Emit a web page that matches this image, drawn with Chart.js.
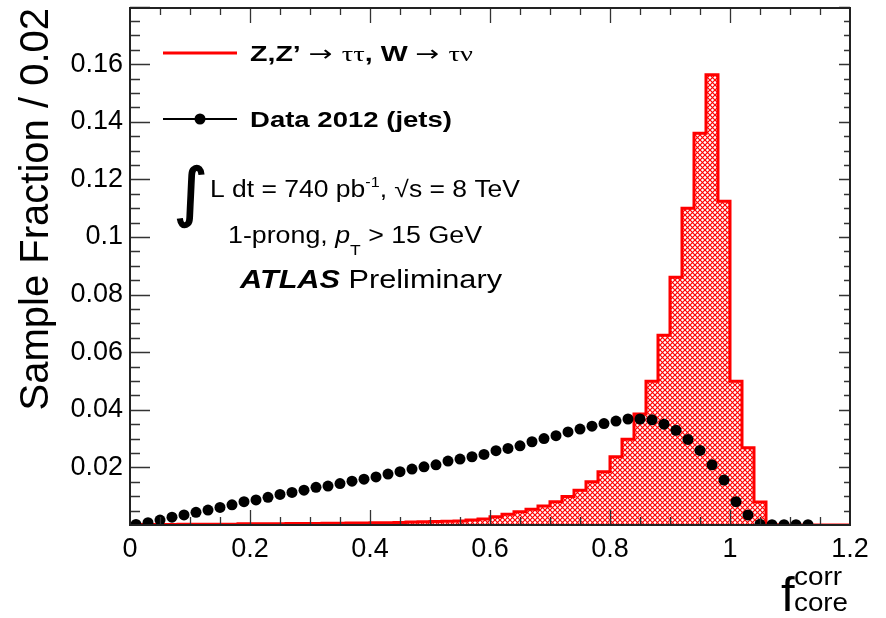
<!DOCTYPE html>
<html>
<head>
<meta charset="utf-8">
<script src="https://cdn.jsdelivr.net/npm/chart.js@4.4.1/dist/chart.umd.min.js"></script>
<style>
  html, body { margin: 0; padding: 0; background: #fff; }
  canvas { display: block; }
</style>
</head>
<body>
<canvas id="grafico" width="886" height="618"></canvas>
<script>
// bin edges of f_core^corr (bin width 0.02)
var binEdges = [0.00, 0.02, 0.04, 0.06, 0.08, 0.10, 0.12, 0.14, 0.16, 0.18,
                0.20, 0.22, 0.24, 0.26, 0.28, 0.30, 0.32, 0.34, 0.36, 0.38,
                0.40, 0.42, 0.44, 0.46, 0.48, 0.50, 0.52, 0.54, 0.56, 0.58,
                0.60, 0.62, 0.64, 0.66, 0.68, 0.70, 0.72, 0.74, 0.76, 0.78,
                0.80, 0.82, 0.84, 0.86, 0.88, 0.90, 0.92, 0.94, 0.96, 0.98,
                1.00, 1.02, 1.04, 1.06, 1.08, 1.10, 1.12, 1.14, 1.16, 1.18, 1.20];

// Z,Z' -> tautau, W -> taunu (signal histogram)
var sinalValores = [0.0002, 0.0002, 0.0002, 0.0002, 0.0003, 0.0003, 0.0003, 0.0003, 0.0003, 0.0004,
                    0.0004, 0.0004, 0.0004, 0.0005, 0.0005, 0.0005, 0.0006, 0.0006, 0.0007, 0.0007,
                    0.0008, 0.0008, 0.0009, 0.0010, 0.0011, 0.0012, 0.0013, 0.0014, 0.0017, 0.0021,
                    0.0029, 0.0037, 0.0046, 0.0055, 0.0066, 0.0081, 0.0099, 0.0121, 0.0150, 0.0185,
                    0.0237, 0.0298, 0.0385, 0.0499, 0.0659, 0.0860, 0.1100, 0.1360, 0.1563, 0.1124,
                    0.0499, 0.0268, 0.0080, 0.0001, 0, 0, 0, 0, 0, 0];

// Data 2012 (jets), one value per bin (null = no point drawn)
var dadosValores = [0.0002, 0.0008, 0.0017, 0.0027, 0.0035, 0.0044, 0.0052, 0.0061, 0.0070, 0.0081,
                    0.0087, 0.0096, 0.0106, 0.0113, 0.0121, 0.0131, 0.0135, 0.0144, 0.0152, 0.0159,
                    0.0167, 0.0177, 0.0185, 0.0194, 0.0202, 0.0209, 0.0222, 0.0229, 0.0237, 0.0245,
                    0.0258, 0.0266, 0.0275, 0.0289, 0.0300, 0.0310, 0.0323, 0.0333, 0.0343, 0.0352,
                    0.0361, 0.0368, 0.0368, 0.0365, 0.0350, 0.0329, 0.0297, 0.0259, 0.0209, 0.0156,
                    0.0081, 0.0035, 0.0003, 0.0001, 0.0001, 0.0001, 0.0001, null, null, null];

var xMin = 0, xMax = 1.2, xPasso = 0.2, xMenor = 0.05;
var yMin = 0, yMax = 0.1795, yPasso = 0.02, yMenor = 0.005;

var SANS = '"Liberation Sans", Arial, Helvetica, sans-serif';
var SERIF = '"Liberation Serif", "Times New Roman", serif';

function montaHachura(ctx) {
    var s = 5;
    var c = document.createElement("canvas");
    c.width = s; c.height = s;
    var g = c.getContext("2d");
    g.strokeStyle = "#ff0000";
    g.lineWidth = 1.2;
    g.beginPath();
    g.moveTo(-1, -1); g.lineTo(s + 1, s + 1);
    g.moveTo(s + 1, -1); g.lineTo(-1, s + 1);
    g.stroke();
    return ctx.createPattern(c, "repeat");
}

// draws text pieces in a row, squeezed/stretched to fit between x0 and x1
function escreveLinha(ctx, x0, x1, base, partes) {
    var total = 0;
    partes.forEach(function(p) {
        ctx.font = p.font;
        total += ctx.measureText(p.t).width;
    });
    var sx = x1 ? (x1 - x0) / total : 1;
    ctx.save();
    ctx.translate(x0, base);
    ctx.scale(sx, 1);
    ctx.textBaseline = "alphabetic";
    ctx.textAlign = "left";
    var cx = 0;
    partes.forEach(function(p) {
        ctx.font = p.font;
        ctx.fillText(p.t, cx, p.dy || 0);
        if (p.grosso) {
            ctx.lineWidth = p.grosso;
            ctx.strokeText(p.t, cx, p.dy || 0);
        }
        cx += ctx.measureText(p.t).width;
    });
    ctx.restore();
}

var decoracao = {
    id: "decoracao",
    afterDatasetsDraw: function(chart) {
        var ctx = chart.ctx, a = chart.chartArea;
        var xs = chart.scales.x, ys = chart.scales.y;
        ctx.save();
        ctx.strokeStyle = "#333";
        ctx.lineWidth = 1.3;
        ctx.beginPath();
        var nY = Math.round((yMax - yMin) / yMenor);
        for (var k = 1; k <= nY; k++) {
            var py = Math.round(ys.getPixelForValue(k * yMenor)) + 0.5;
            var maior = (k % 4 === 0);
            ctx.moveTo(a.left, py); ctx.lineTo(a.left + (maior ? 20 : 10), py);
            ctx.moveTo(a.right, py); ctx.lineTo(a.right - (maior ? 11 : 6), py);
        }
        var nX = Math.round((xMax - xMin) / xMenor);
        for (var j = 1; j < nX; j++) {
            var px = Math.round(xs.getPixelForValue(j * xMenor)) + 0.5;
            var grande = (j % 4 === 0);
            ctx.moveTo(px, a.bottom); ctx.lineTo(px, a.bottom - (grande ? 15 : 8));
            ctx.moveTo(px, a.top); ctx.lineTo(px, a.top + (grande ? 15 : 7));
        }
        ctx.stroke();
        ctx.strokeStyle = "#222";
        ctx.lineWidth = 2;
        ctx.strokeRect(a.left, a.top, a.right - a.left, a.bottom - a.top);
        ctx.restore();
    },
    afterDraw: function(chart) {
        var ctx = chart.ctx;
        ctx.save();
        ctx.fillStyle = "#000";
        ctx.strokeStyle = "#000";

        // legend
        ctx.strokeStyle = "#ff0000";
        ctx.lineWidth = 3;
        ctx.beginPath(); ctx.moveTo(163, 53); ctx.lineTo(237, 53); ctx.stroke();
        ctx.strokeStyle = "#000";
        ctx.lineWidth = 2;
        ctx.beginPath(); ctx.moveTo(163, 119); ctx.lineTo(237, 119); ctx.stroke();
        ctx.beginPath(); ctx.arc(200, 119, 5.5, 0, Math.PI * 2); ctx.fill();

        escreveLinha(ctx, 250, 473, 61, [
            { t: "Z,Z\u2019 ", font: "bold 22px " + SANS },
            { t: "\u2192 ", font: "22px \"DejaVu Sans\", sans-serif" },
            { t: "\u03c4\u03c4", font: "22px " + SERIF },
            { t: ", W ", font: "bold 22px " + SANS },
            { t: "\u2192 ", font: "22px \"DejaVu Sans\", sans-serif" },
            { t: "\u03c4\u03bd", font: "22px " + SERIF }
        ]);
        escreveLinha(ctx, 250, 452, 127, [
            { t: "Data 2012 (jets)", font: "bold 22px " + SANS }
        ]);

        // integral sign and labels
        escreveLinha(ctx, 174, 0, 214, [
            { t: "\u222b", font: "64px \"DejaVu Sans\", sans-serif", grosso: 1.5 }
        ]);
        escreveLinha(ctx, 210, 520, 197, [
            { t: "L dt = 740 pb", font: "23px " + SANS },
            { t: "-1", font: "14px " + SANS, dy: -10 },
            { t: ", \u221as = 8 TeV", font: "23px " + SANS }
        ]);
        escreveLinha(ctx, 228, 482, 243, [
            { t: "1-prong, ", font: "23px " + SANS },
            { t: "p", font: "italic 23px " + SANS },
            { t: "T", font: "15px " + SANS, dy: 12 },
            { t: " > 15 GeV", font: "23px " + SANS }
        ]);
        escreveLinha(ctx, 240, 502, 288, [
            { t: "ATLAS", font: "italic bold 25px " + SANS },
            { t: " Preliminary", font: "25px " + SANS }
        ]);

        // x axis title f_core^corr
        escreveLinha(ctx, 781, 0, 611, [{ t: "f", font: "49px " + SANS }]);
        escreveLinha(ctx, 794, 842, 585, [{ t: "corr", font: "25px " + SANS }]);
        escreveLinha(ctx, 794, 848, 611, [{ t: "core", font: "25px " + SANS }]);
        ctx.restore();
    }
};

(function() {
    var canvas = document.getElementById("grafico");
    var ctx = canvas.getContext("2d");

    var pontosSinal = [];
    for (var i = 0; i < sinalValores.length; i++) {
        pontosSinal.push({ x: binEdges[i], y: sinalValores[i] });
    }
    pontosSinal.push({ x: binEdges[binEdges.length - 1], y: sinalValores[sinalValores.length - 1] });

    var pontosDados = [];
    for (var k = 0; k < dadosValores.length; k++) {
        if (dadosValores[k] === null) continue;
        pontosDados.push({ x: (binEdges[k] + binEdges[k + 1]) / 2, y: dadosValores[k] });
    }

    new Chart(ctx, {
        type: "line",
        data: {
            datasets: [{
                label: "Data 2012 (jets)",
                data: pontosDados,
                showLine: false,
                pointRadius: 5.5,
                pointBackgroundColor: "#000",
                pointBorderWidth: 0,
                order: 0
            }, {
                label: "Z,Z\u2019 \u2192 \u03c4\u03c4, W \u2192 \u03c4\u03bd",
                data: pontosSinal,
                stepped: "before",
                borderColor: "#ff0000",
                borderWidth: 3,
                backgroundColor: montaHachura(ctx),
                fill: "origin",
                pointRadius: 0,
                order: 1
            }]
        },
        options: {
            responsive: false,
            animation: false,
            devicePixelRatio: 1,
            layout: { padding: { top: 8, right: 36, left: 0, bottom: 0 } },
            plugins: {
                legend: { display: false },
                tooltip: { enabled: false }
            },
            scales: {
                x: {
                    type: "linear",
                    min: xMin,
                    max: xMax,
                    grid: { display: false, drawTicks: false },
                    border: { display: false },
                    ticks: {
                        stepSize: xPasso,
                        padding: 8,
                        color: "#000",
                        maxRotation: 0,
                        autoSkip: false,
                        font: { family: SANS, size: 27 },
                        callback: function(v) { return String(+v.toFixed(1)); }
                    },
                    afterFit: function(s) { s.height = 93; s.paddingLeft = 0; s.paddingRight = 0; }
                },
                y: {
                    type: "linear",
                    min: yMin,
                    max: yMax,
                    grid: { display: false, drawTicks: false },
                    border: { display: false },
                    ticks: {
                        stepSize: yPasso,
                        includeBounds: false,
                        padding: 7,
                        color: "#000",
                        font: { family: SANS, size: 27 },
                        callback: function(v) { return v === 0 ? "" : String(+v.toFixed(2)); }
                    },
                    title: {
                        display: true,
                        text: "Sample Fraction / 0.02",
                        align: "end",
                        color: "#000",
                        font: { family: SANS, size: 40 },
                        padding: { top: 13, bottom: 0 }
                    },
                    afterFit: function(s) { s.width = 130; s.paddingTop = 0; s.paddingBottom = 0; }
                }
            }
        },
        plugins: [decoracao]
    });
})();
</script>
</body>
</html>
